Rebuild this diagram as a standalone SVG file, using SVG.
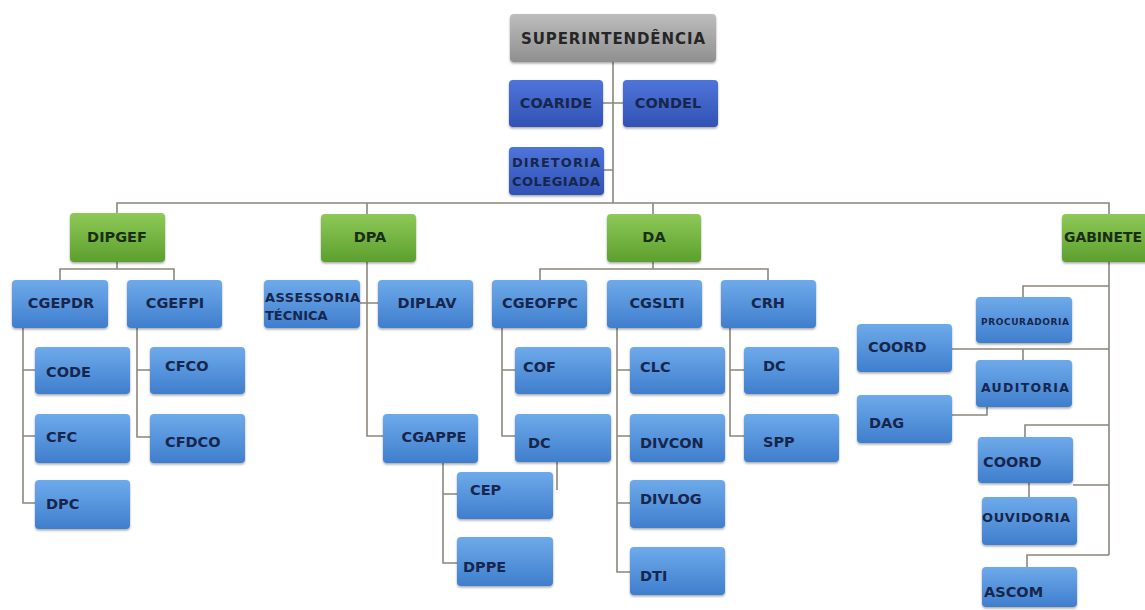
<svg xmlns="http://www.w3.org/2000/svg" width="1145" height="610" viewBox="0 0 1145 610">
<defs>
<linearGradient id="gBlue" x1="0" y1="0" x2="0" y2="1"><stop offset="0" stop-color="#6eaaea"/><stop offset="1" stop-color="#3f7ecd"/></linearGradient>
<linearGradient id="gGreen" x1="0" y1="0" x2="0" y2="1"><stop offset="0" stop-color="#8ec957"/><stop offset="1" stop-color="#5c9f2e"/></linearGradient>
<linearGradient id="gDark" x1="0" y1="0" x2="0" y2="1"><stop offset="0" stop-color="#4f74da"/><stop offset="1" stop-color="#3152b4"/></linearGradient>
<linearGradient id="gGray" x1="0" y1="0" x2="0" y2="1"><stop offset="0" stop-color="#bdbdbd"/><stop offset="1" stop-color="#8f8f8f"/></linearGradient>
<filter id="sh" x="-10%" y="-10%" width="120%" height="130%"><feDropShadow dx="0" dy="1.5" stdDeviation="1.2" flood-color="#000" flood-opacity="0.35"/></filter>
</defs>
<style>
.conn{stroke:#8c877b;stroke-width:1.6;fill:none}
rect{rx:4;ry:4;filter:url(#sh)}
.b{fill:url(#gBlue)}.g{fill:url(#gGreen)}.d{fill:url(#gDark)}.s{fill:url(#gGray)}
text{font-family:"DejaVu Sans",Verdana,sans-serif;font-weight:bold;fill:#17264d;font-size:14.5px;dominant-baseline:central}
.c{text-anchor:middle}
.gt{fill:#1a2e16}
.st{fill:#262626}
</style>
<rect width="1145" height="610" fill="#ffffff" style="filter:none"/>
<g id="connectors">
<path class="conn" d="M613 62V203M603 103H623M613 170H604"/>
<path class="conn" d="M117 213V203H1109V214M367 203V214M653 203V214"/>
<path class="conn" d="M117 262V269M60 280V269H174V280"/>
<path class="conn" d="M23 328V503H35M23 370H35M23 436H35"/>
<path class="conn" d="M137 328V437H150M137 370H150"/>
<path class="conn" d="M367 262V436H383M360 303H378"/>
<path class="conn" d="M443 463V563H457M443 494H457"/>
<path class="conn" d="M653 262V269M540 280V269H768V280"/>
<path class="conn" d="M502 328V436H515M502 370H515M557 462V490"/>
<path class="conn" d="M617 328V572H630M617 370H630M617 436H630M617 503H630"/>
<path class="conn" d="M730 328V436H744M730 370H744"/>
<path class="conn" d="M1109 262V555M1023 297V286H1109M952 349H1109M1023 349V360M952 415H987V407M1025 437V425H1109M1073 485H1109M1029 483V497M1027 567V555H1109"/>
</g>
<g id="superintendencia"><rect class="s" x="510" y="14" width="206" height="48"/><text class="c st" x="613" y="39" style="font-size:15px" textLength="184">SUPERINTENDÊNCIA</text></g>
<g id="coaride"><rect class="d" x="509" y="80" width="94" height="47"/><text class="c" x="556" y="103">COARIDE</text></g>
<g id="condel"><rect class="d" x="623" y="80" width="95" height="47"/><text class="c" x="668" y="103">CONDEL</text></g>
<g id="diretoria"><rect class="d" x="509" y="147" width="95" height="48"/><text x="512" y="162" style="font-size:13px" textLength="88">DIRETORIA</text><text x="512" y="181" style="font-size:13px" textLength="88">COLEGIADA</text></g>
<g id="dipgef"><rect class="g" x="70" y="213" width="95" height="49"/><text class="c gt" x="117" y="237">DIPGEF</text></g>
<g id="dpa"><rect class="g" x="321" y="214" width="95" height="48"/><text class="c gt" x="370" y="237">DPA</text></g>
<g id="da"><rect class="g" x="607" y="214" width="94" height="48"/><text class="c gt" x="654" y="237">DA</text></g>
<g id="gabinete"><rect class="g" x="1062" y="214" width="100" height="48"/><text class="gt" x="1064" y="237" style="font-size:14px" textLength="78">GABINETE</text></g>
<g id="cgepdr"><rect class="b" x="12" y="280" width="96" height="48"/><text class="c" x="61" y="303">CGEPDR</text></g>
<g id="cgefpi"><rect class="b" x="127" y="280" width="95" height="48"/><text class="c" x="175" y="303">CGEFPI</text></g>
<g id="code"><rect class="b" x="35" y="347" width="95" height="47"/><text x="46" y="372">CODE</text></g>
<g id="cfc"><rect class="b" x="35" y="414" width="95" height="49"/><text x="46" y="437">CFC</text></g>
<g id="dpc"><rect class="b" x="35" y="480" width="95" height="49"/><text x="46" y="504">DPC</text></g>
<g id="cfco"><rect class="b" x="150" y="347" width="95" height="47"/><text x="165" y="366">CFCO</text></g>
<g id="cfdco"><rect class="b" x="150" y="414" width="95" height="49"/><text x="165" y="442">CFDCO</text></g>
<g id="assessoria"><rect class="b" x="264" y="280" width="96" height="48"/><text x="265" y="297" style="font-size:13px" textLength="95">ASSESSORIA</text><text x="265" y="315" style="font-size:13px">TÉCNICA</text></g>
<g id="diplav"><rect class="b" x="378" y="280" width="95" height="48"/><text class="c" x="427" y="303">DIPLAV</text></g>
<g id="cgappe"><rect class="b" x="383" y="414" width="95" height="49"/><text class="c" x="434" y="437">CGAPPE</text></g>
<g id="cep"><rect class="b" x="457" y="472" width="96" height="47"/><text x="470" y="490">CEP</text></g>
<g id="dppe"><rect class="b" x="457" y="537" width="96" height="49"/><text x="463" y="567">DPPE</text></g>
<g id="cgeofpc"><rect class="b" x="492" y="280" width="95" height="48"/><text class="c" x="540" y="303">CGEOFPC</text></g>
<g id="cgslti"><rect class="b" x="607" y="280" width="95" height="48"/><text class="c" x="657" y="303">CGSLTI</text></g>
<g id="crh"><rect class="b" x="721" y="280" width="95" height="48"/><text class="c" x="768" y="303">CRH</text></g>
<g id="cof"><rect class="b" x="515" y="347" width="96" height="47"/><text x="523" y="367">COF</text></g>
<g id="dc1"><rect class="b" x="515" y="414" width="96" height="48"/><text x="528" y="443">DC</text></g>
<g id="clc"><rect class="b" x="630" y="347" width="95" height="47"/><text x="640" y="367">CLC</text></g>
<g id="divcon"><rect class="b" x="630" y="414" width="95" height="48"/><text x="640" y="443">DIVCON</text></g>
<g id="divlog"><rect class="b" x="630" y="480" width="95" height="48"/><text x="640" y="499">DIVLOG</text></g>
<g id="dti"><rect class="b" x="630" y="547" width="95" height="48"/><text x="640" y="576">DTI</text></g>
<g id="dc2"><rect class="b" x="744" y="347" width="95" height="47"/><text x="763" y="366">DC</text></g>
<g id="spp"><rect class="b" x="744" y="414" width="95" height="48"/><text x="763" y="442">SPP</text></g>
<g id="procuradoria"><rect class="b" x="976" y="297" width="96" height="46"/><text x="981" y="322" style="font-size:9px" textLength="88">PROCURADORIA</text></g>
<g id="coord1"><rect class="b" x="857" y="324" width="95" height="48"/><text x="868" y="347">COORD</text></g>
<g id="auditoria"><rect class="b" x="976" y="360" width="96" height="47"/><text x="981" y="387" style="font-size:12.5px" textLength="88">AUDITORIA</text></g>
<g id="dag"><rect class="b" x="857" y="395" width="95" height="48"/><text x="869" y="423">DAG</text></g>
<g id="coord2"><rect class="b" x="978" y="437" width="95" height="46"/><text x="983" y="462">COORD</text></g>
<g id="ouvidoria"><rect class="b" x="982" y="497" width="95" height="48"/><text x="982" y="517" style="font-size:13px" textLength="88">OUVIDORIA</text></g>
<g id="ascom"><rect class="b" x="982" y="567" width="95" height="40"/><text x="984" y="592">ASCOM</text></g>
</svg>
